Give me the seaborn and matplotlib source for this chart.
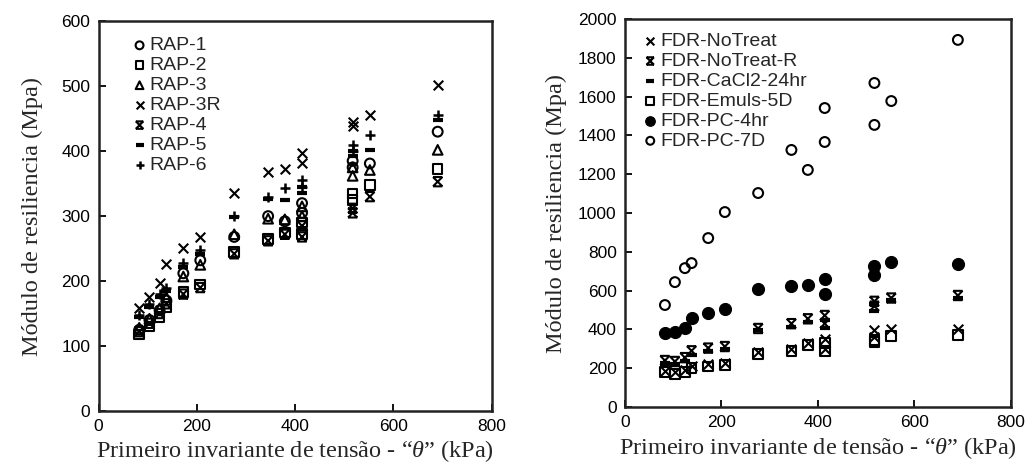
import numpy as np
import pandas as pd
import matplotlib
matplotlib.use("Agg")
import matplotlib.pyplot as plt
from matplotlib.path import Path
import seaborn as sns

# Bulk stress of the 15 loading sequences (kPa)
theta = [82.8, 103.5, 124.2, 138, 172.5, 207, 276, 345, 414, 379, 414, 517, 517, 552, 690]

# Resilient modulus, RAP materials (MPa)
rap_1 = [125, 140, 155, 170, 212, 232, 268, 300, 320, 292, 305, 385, 375, 381, 430]
rap_2 = [118, 130, 145, 160, 183, 195, 245, 265, 290, 275, 272, 335, 325, 348, 373]
rap_3 = [128, 142, 158, 175, 207, 225, 272, 296, 315, 295, 300, 375, 362, 371, 402]
rap_3r = [158, 175, 197, 227, 251, 268, 335, 368, 397, 372, 382, 445, 438, 455, 502]
rap_4 = [122, 135, 150, 165, 180, 190, 242, 262, 285, 272, 268, 312, 305, 330, 353]
rap_5 = [145, 160, 175, 185, 222, 242, 298, 327, 345, 325, 335, 400, 392, 402, 448]
rap_6 = [148, 165, 180, 190, 228, 248, 300, 330, 355, 343, 345, 410, 400, 425, 455]

# Resilient modulus, FDR materials (MPa)
fdr_notreat = [185, 180, 190, 210, 220, 225, 285, 300, 350, 330, 300, 395, 360, 400, 400]
fdr_notreat_r = [240, 235, 255, 290, 304, 312, 405, 430, 472, 455, 430, 545, 520, 562, 575]
fdr_cacl2 = [225, 220, 240, 270, 290, 300, 395, 415, 450, 440, 410, 530, 495, 550, 560]
fdr_emuls = [180, 170, 180, 200, 210, 218, 275, 290, 330, 320, 290, 345, 335, 365, 370]
fdr_pc_4hr = [381, 386, 407, 459, 484, 505, 608, 624, 659, 628, 582, 727, 680, 747, 737]
fdr_pc_7d = [526, 644, 716, 742, 871, 1005, 1103, 1325, 1541, 1222, 1366, 1670, 1454, 1577, 1892]

rap_labels = ["RAP-1", "RAP-2", "RAP-3", "RAP-3R", "RAP-4", "RAP-5", "RAP-6"]
fdr_labels = ["FDR-NoTreat", "FDR-NoTreat-R", "FDR-CaCl2-24hr", "FDR-Emuls-5D",
              "FDR-PC-4hr", "FDR-PC-7D"]

sns.set_theme(style="ticks")
plt.rcParams["font.family"] = ["Liberation Sans", "DejaVu Sans"]
plt.rcParams["mathtext.fontset"] = "custom"
plt.rcParams["mathtext.it"] = "Liberation Serif:italic"
plt.rcParams["mathtext.rm"] = "Liberation Serif"

# X with bars on top and bottom
bowtie = Path(
    [(-1, -1), (1, 1), (-1, 1), (1, -1), (-1, 1), (1, 1), (-1, -1), (1, -1)],
    [Path.MOVETO, Path.LINETO, Path.MOVETO, Path.LINETO,
     Path.MOVETO, Path.LINETO, Path.MOVETO, Path.LINETO],
)

styles = {
    "o_open": dict(marker="o", facecolor="none", edgecolor="black", linewidth=1.5, s=50),
    "o_fill": dict(marker="o", facecolor="black", edgecolor="black", linewidth=0.8, s=75),
    "s_open": dict(marker="s", facecolor="none", edgecolor="black", linewidth=1.5, s=48),
    "^_open": dict(marker="^", facecolor="none", edgecolor="black", linewidth=1.5, s=48),
    "x": dict(marker="x", color="black", linewidth=1.5, s=48),
    "+": dict(marker="+", color="black", linewidth=1.8, s=50),
    "_": dict(marker="_", color="black", linewidth=3.0, s=50),
    "bow": dict(marker=bowtie, facecolor="none", edgecolor="black", linewidth=1.5, s=45),
}

fig = plt.figure(figsize=(10.32, 4.69), dpi=100)
ax1 = fig.add_axes([0.0955, 0.1237, 0.381, 0.831])
ax2 = fig.add_axes([0.6056, 0.132, 0.374, 0.8276])

rap_series = [(rap_1, "o_open"), (rap_2, "s_open"), (rap_3, "^_open"), (rap_3r, "x"),
              (rap_4, "bow"), (rap_5, "_"), (rap_6, "+")]
for (vals, st), lab in zip(rap_series, rap_labels):
    df = pd.DataFrame({"theta": theta, "mr": vals})
    sns.scatterplot(data=df, x="theta", y="mr", ax=ax1, label=lab, **styles[st])

fdr_series = [(fdr_notreat, "x"), (fdr_notreat_r, "bow"), (fdr_cacl2, "_"),
              (fdr_emuls, "s_open"), (fdr_pc_4hr, "o_fill"), (fdr_pc_7d, "o_open")]
for (vals, st), lab in zip(fdr_series, fdr_labels):
    df = pd.DataFrame({"theta": theta, "mr": vals})
    sns.scatterplot(data=df, x="theta", y="mr", ax=ax2, label=lab, **styles[st])

xlabel = "Primeiro invariante de tensão - “$\\theta$” (kPa)"
ylabel = "Módulo de resiliencia (Mpa)"

panels = [(ax1, 600, 100, (0.04, 0.995), 13), (ax2, 2000, 200, (0.0, 1.0), 8)]
for ax, ymax, ystep, legpos, ypad in panels:
    ax.set_xlim(0, 800)
    ax.set_ylim(0, ymax)
    ax.set_xticks(np.arange(0, 801, 200))
    ax.set_yticks(np.arange(0, ymax + 1, ystep))
    ax.tick_params(direction="in", length=5, width=1.3, labelsize=12.5,
                   colors="black", pad=6)
    for sp in ax.spines.values():
        sp.set_visible(True)
        sp.set_linewidth(1.8)
        sp.set_color("#222222")
    ax.set_xlabel(xlabel, family="Liberation Serif", fontsize=17.5, labelpad=3)
    ax.set_ylabel(ylabel, family="Liberation Serif", fontsize=17.5, labelpad=ypad)
    ax.legend(loc="upper left", bbox_to_anchor=legpos, frameon=False, fontsize=14,
              handletextpad=-0.1, handlelength=1.2, labelspacing=0.12,
              borderaxespad=0.3, markerscale=0.8)

fig.savefig("out.png", dpi=100)
